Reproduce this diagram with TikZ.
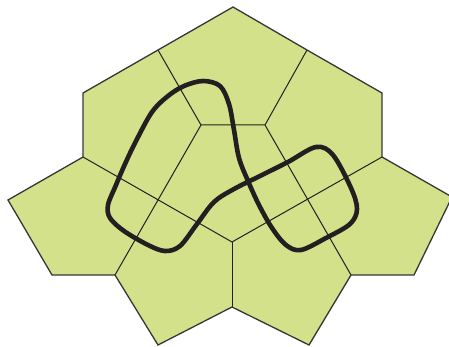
\documentclass[tikz,border=0pt]{standalone}
\definecolor{tile}{RGB}{211,225,139}
\definecolor{ink}{RGB}{35,31,32}
\begin{document}
\begin{tikzpicture}[x=1pt,y=-1pt,
  outline/.style={draw=ink!90!white, line width=1.3pt, line join=miter},
  edge/.style={draw=ink, line width=1pt},
  loopline/.style={draw=ink, line width=4.6pt, line join=round}]
\useasboundingbox (0,0) rectangle (449,347);
\clip (0,0) rectangle (449,347);
% outer vertices
\coordinate (v1) at (233,7);
\coordinate (v2) at (307,50);
\coordinate (v3) at (382,93);
\coordinate (v4) at (382,157);
\coordinate (v5) at (452,197);
\coordinate (v6) at (414,275);
\coordinate (v7) at (351,275);
\coordinate (v8) at (309,345);
\coordinate (v9) at (232,307);
\coordinate (v10) at (158,345);
\coordinate (v11) at (115,275);
\coordinate (v12) at (52,275);
\coordinate (v13) at (8,200);
\coordinate (v14) at (83,157);
\coordinate (v15) at (83,93);
\coordinate (v16) at (158,50);
% inner vertices
\coordinate (c1) at (201,125);
\coordinate (c2) at (265,125);
\coordinate (c3) at (232,242);
% fill
\fill[tile] (v1) -- (v2) -- (v3) -- (v4) -- (v5) -- (v6) -- (v7) -- (v8) -- (v9) -- (v10) -- (v11) -- (v12) -- (v13) -- (v14) -- (v15) -- (v16) -- cycle;
% inner edges
\draw[edge] (v16) -- (c1) -- (c2) -- (v2);
\draw[edge] (c1) -- (v11);
\draw[edge] (c2) -- (v7);
\draw[edge] (v14) -- (c3) -- (v4);
\draw[edge] (c3) -- (v9);
% outline
\draw[outline] (v1) -- (v2) -- (v3) -- (v4) -- (v5) -- (v6) -- (v7) -- (v8) -- (v9) -- (v10) -- (v11) -- (v12) -- (v13) -- (v14) -- (v15) -- (v16) -- cycle;
% thick closed curve
\draw[loopline] plot[smooth cycle, tension=0.55] coordinates {
  (203,81) (220,86) (229,104) (234,130) (239,158) (248,181) (259,205) (272,228)
  (286,245) (301,250) (326,238) (350,224) (357,209) (351,188) (333,155) (316,147)
  (288,162) (260,176) (234,189) (214,202) (197,224) (180,246) (165,251)
  (148,245) (124,231) (110,218) (108,205) (116,185) (125,164) (136,141)
  (152,112) (168,96) (184,86)};
\end{tikzpicture}
\end{document}
